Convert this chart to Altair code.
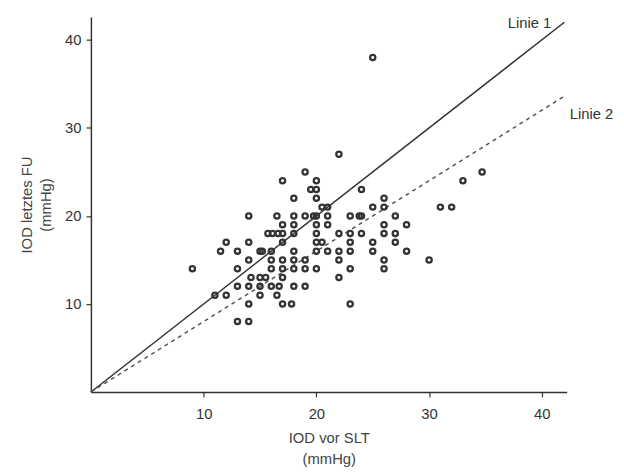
import altair as alt
import pandas as pd

# IOD vor SLT (x) and IOD letztes FU (y)
iod_vor_slt = [
    25,
    22,
    19, 34.7,
    17, 20, 33,
    19.5, 20, 24,
    18, 20, 26,
    20.5, 21, 25, 26, 31, 32,
    14, 16.5, 18, 19, 19.75, 20, 21, 23, 23.8, 24, 27,
    17, 18, 20, 21, 26, 28,
    15.7, 16.1, 16.6, 17, 18, 20, 22, 23, 24, 26, 27,
    12, 14, 17, 20, 20.5, 23, 25, 27,
    11.5, 13, 15, 15.2, 16, 18, 20, 21, 22, 23, 25, 28,
    14, 16, 17, 18, 19, 22, 26, 30,
    9, 13, 16, 17, 18, 19, 20, 23, 26,
    14.2, 15, 15.5, 17, 22,
    13, 14, 15, 16, 16.7, 18, 19,
    11, 12, 15, 16.5,
    14, 17, 17.8, 23,
    13, 14,
]
iod_letztes_fu = (
    [38] * 1 + [27] * 1 + [25] * 2 + [24] * 3 + [23] * 3 + [22] * 3 + [21] * 6
    + [20] * 11 + [19] * 6 + [18] * 11 + [17] * 8 + [16] * 12 + [15] * 8
    + [14] * 9 + [13] * 5 + [12] * 7 + [11] * 4 + [10] * 4 + [8] * 2
)

line_x = [0, 42]
linie1_y = [0, 42]
linie2_y = [0, 33.6]

label_text = ["Linie 1", "Linie 2"]
label_x = [38.9, 44.4]
label_y = [41.9, 31.6]

x_ticks = [10, 20, 30, 40]
y_ticks = [10, 20, 30, 40]

FONT = "Liberation Sans"

pts = pd.DataFrame({"x": iod_vor_slt, "y": iod_letztes_fu})
lines = pd.DataFrame({"x": line_x, "y1": linie1_y, "y2": linie2_y})
labels = pd.DataFrame({"x": label_x, "y": label_y, "t": label_text})

xs = alt.Scale(domain=[0, 42.2], nice=False, zero=False)
ys = alt.Scale(domain=[0, 42.6], nice=False, zero=False)

x_axis = alt.Axis(
    values=x_ticks, title=["IOD vor SLT", "(mmHg)"], grid=False,
    domainColor="#333", domainWidth=1.5, tickColor="#333", tickWidth=1.2, tickSize=5,
    labelFont=FONT, labelFontSize=15, labelColor="#333", labelPadding=10,
    titleFont=FONT, titleFontSize=15, titleFontWeight="normal", titleColor="#444",
    titlePadding=9, titleLineHeight=21,
)
y_axis = alt.Axis(
    values=y_ticks, title=["IOD letztes FU", "(mmHg)"], grid=False,
    domainColor="#333", domainWidth=1.5, tickColor="#333", tickWidth=1.2, tickSize=5,
    labelFont=FONT, labelFontSize=15, labelColor="#333", labelPadding=5,
    titleFont=FONT, titleFontSize=15, titleFontWeight="normal", titleColor="#444",
    titlePadding=11, titleLineHeight=20,
)

X = alt.X("x:Q", scale=xs, axis=x_axis)

points = alt.Chart(pts).mark_point(
    shape="circle", filled=False, size=28, strokeWidth=2.3, color="#333", opacity=1
).encode(
    x=X,
    y=alt.Y("y:Q", scale=ys, axis=y_axis),
)

line1 = alt.Chart(lines).mark_line(color="#333", strokeWidth=1.5).encode(
    x=X,
    y=alt.Y("y1:Q", scale=ys, axis=y_axis),
)
line2 = alt.Chart(lines).mark_line(color="#555", strokeWidth=1.5, strokeDash=[4, 4]).encode(
    x=X,
    y=alt.Y("y2:Q", scale=ys, axis=y_axis),
)
text = alt.Chart(labels).mark_text(font=FONT, fontSize=15, color="#333").encode(
    x=X,
    y=alt.Y("y:Q", scale=ys, axis=y_axis),
    text="t:N",
)

chart = alt.layer(line1, line2, points, text).properties(
    width=482, height=380,
    padding={"left": 84, "top": 6, "right": 50, "bottom": 80},
    autosize=alt.AutoSizeParams(type="none"),
).configure_view(stroke=None)

chart.save("out.html", embed_options={"renderer": "svg", "actions": False})
